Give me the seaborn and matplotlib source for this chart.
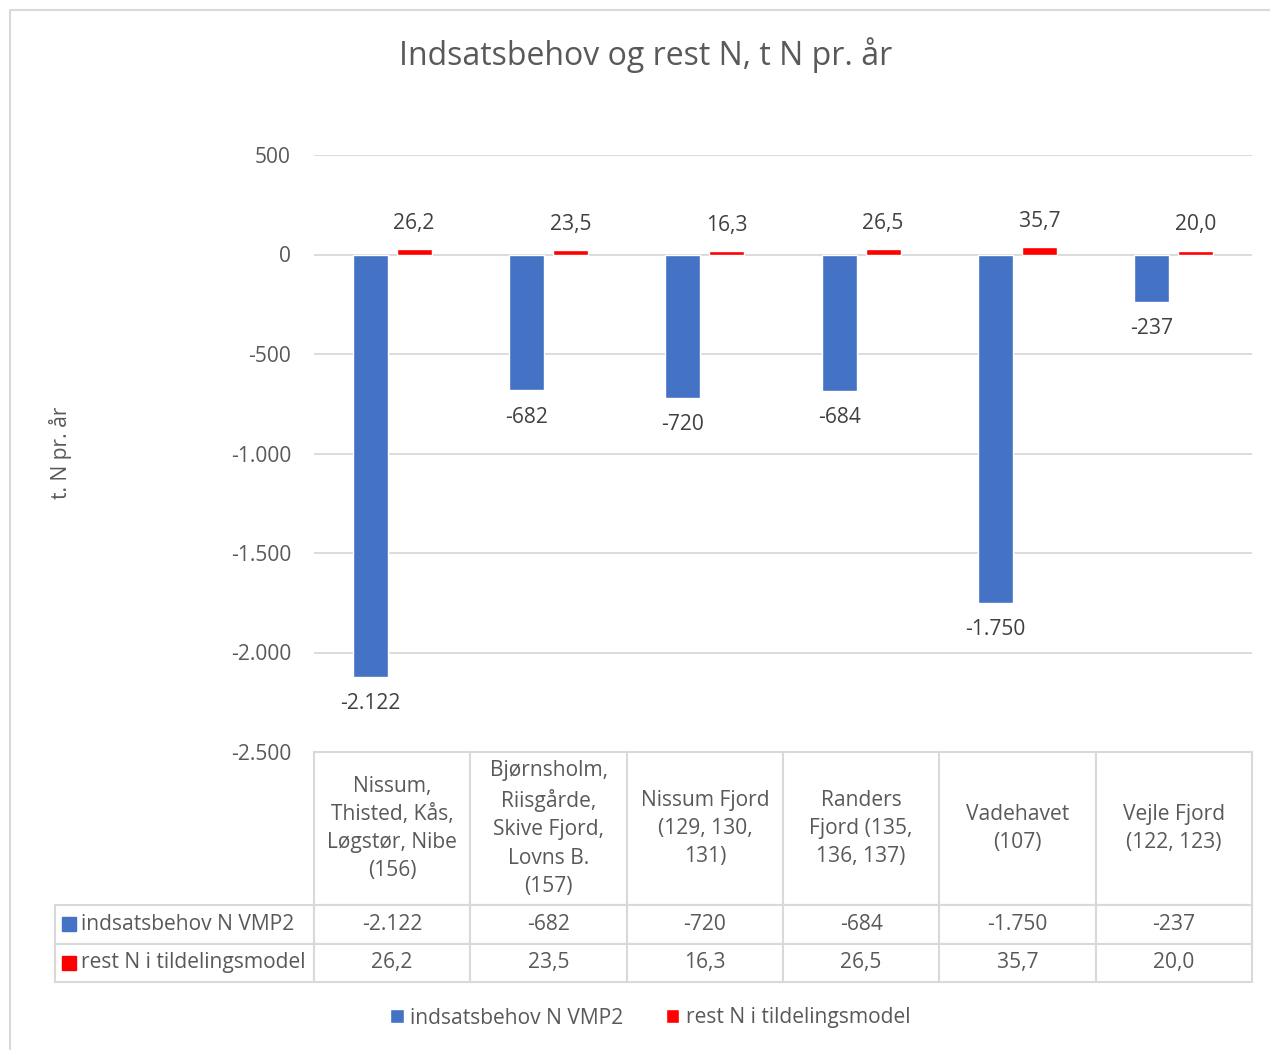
import numpy as np
import pandas as pd
import matplotlib
matplotlib.use('Agg')
import matplotlib.pyplot as plt
from matplotlib.table import Table
import seaborn as sns

# data
omraader = ['Nissum,\nThisted, Kås,\nLøgstør, Nibe\n(156)',
            'Bjørnsholm,\nRiisgårde,\nSkive Fjord,\nLovns B.\n(157)',
            'Nissum Fjord\n(129, 130,\n131)',
            'Randers\nFjord (135,\n136, 137)',
            'Vadehavet\n(107)',
            'Vejle Fjord\n(122, 123)']
serier = ['indsatsbehov N VMP2', 'rest N i tildelingsmodel']
indsatsbehov = [-2122, -682, -720, -684, -1750, -237]
rest_n = [26.2, 23.5, 16.3, 26.5, 35.7, 20.0]
y_ticks = [-2500, -2000, -1500, -1000, -500, 0, 500]

farver = ['#4472C4', '#FF0000']
tekst = '#595959'
linje = '#D9D9D9'
fs = 15.1


def fmt_int(v):
    return f'{v:,.0f}'.replace(',', '.')


def fmt_dec(v):
    return f'{v:.1f}'.replace('.', ',')


df = pd.DataFrame({
    'område': list(range(len(omraader))) * 2,
    'serie': [serier[0]] * len(omraader) + [serier[1]] * len(omraader),
    'værdi': indsatsbehov + rest_n,
})

sns.set_theme(style='white')
plt.rcParams['font.family'] = ['Open Sans', 'DejaVu Sans']

fig = plt.figure(figsize=(12.7, 10.5), dpi=100)
ax = fig.add_axes([314 / 1270, 1 - 752 / 1050, 938 / 1270, 597 / 1050])

sns.barplot(data=df, x='område', y='værdi', hue='serie', palette=farver,
            width=0.56, gap=0.2, ax=ax, legend=True, errorbar=None,
            saturation=1)

ax.bar_label(ax.containers[0], labels=[fmt_int(v) for v in indsatsbehov],
             padding=12, fontsize=fs, color='#404040')
ax.bar_label(ax.containers[1], labels=[fmt_dec(v) for v in rest_n],
             padding=11, fontsize=fs, color='#404040')

ax.set_ylim(-2500, 500)
ax.set_xlim(-0.5, len(omraader) - 0.5)
ax.set_yticks(y_ticks)
ax.set_yticklabels([fmt_int(v) for v in y_ticks], fontsize=fs, color=tekst)
ax.tick_params(axis='y', length=0, pad=16.5)
ax.set_xticks([])
ax.set_xlabel('')
ax.set_ylabel('')
ax.yaxis.grid(True, color=linje, lw=1.3)
ax.set_axisbelow(True)
for s in ax.spines.values():
    s.set_visible(False)

# data table under the plot
tab = Table(ax, bbox=[-259 / 938, -230 / 597, 1197 / 938, 230 / 597])
w0, w1 = 259, 938 / 6
h_head, h_row = 153, 38.5
tab.add_cell(0, 0, w0, h_head, text='').visible_edges = ''
for j, navn in enumerate(omraader):
    tab.add_cell(0, j + 1, w1, h_head, text=navn, loc='center')
for i, (serie, vals, f) in enumerate([(serier[0], indsatsbehov, fmt_int),
                                      (serier[1], rest_n, fmt_dec)]):
    tab.add_cell(i + 1, 0, w0, h_row, text=serie, loc='left')
    for j, v in enumerate(vals):
        tab.add_cell(i + 1, j + 1, w1, h_row, text=f(v), loc='center')
tab.auto_set_font_size(False)
tab.set_fontsize(fs)
for cell in tab.get_celld().values():
    cell.set_edgecolor(linje)
    cell.set_linewidth(1.5)
    cell.get_text().set_color(tekst)
    cell.get_text().set_linespacing(1.45)
ax.add_table(tab)

# legend keys in the table row labels
for i, f in enumerate(farver):
    ax.plot([-245 / 938], [-(172 + 39 * i) / 597], marker='s', ms=10,
            color=f, transform=ax.transAxes, clip_on=False)

fig.text(0.508, 1 - 55 / 1050, 'Indsatsbehov og rest N, t N pr. år',
         ha='center', va='center', fontsize=23, color=tekst)
fig.text(60 / 1270, 1 - 453 / 1050, 't. N pr. år', rotation=90,
         ha='center', va='center', fontsize=fs, color=tekst)

sns.move_legend(ax, 'center', bbox_to_anchor=(0.512, 1 - 1018 / 1050),
                bbox_transform=fig.transFigure, ncol=2, frameon=False,
                title=None, fontsize=fs, handlelength=0.65, handleheight=0.65,
                handletextpad=0.3, columnspacing=2.0)
for t in ax.get_legend().get_texts():
    t.set_color(tekst)

# outer chart border
fig.add_artist(plt.Line2D([10 / 1270, 10 / 1270], [0, 1 - 10 / 1050],
                          color=linje, lw=1.5))
fig.add_artist(plt.Line2D([10 / 1270, 1], [1 - 10 / 1050, 1 - 10 / 1050],
                          color=linje, lw=1.5))

fig.savefig('out.png', dpi=100)
